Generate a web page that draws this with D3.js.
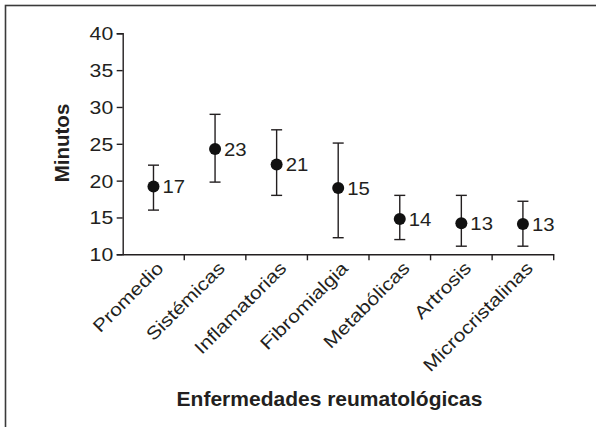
<!DOCTYPE html>
<html>
<head>
<meta charset="utf-8">
<script src="https://cdn.jsdelivr.net/npm/d3@7/dist/d3.min.js"></script>
<style>
  html, body { margin: 0; padding: 0; background: #fff; }
  svg { display: block; }
  text { font-family: "Liberation Sans", Arial, Helvetica, sans-serif; fill: #231f20; }
</style>
</head>
<body>
<svg id="chart" width="596" height="427"></svg>
<script>
// ---- data ----
const categories = ["Promedio", "Sistémicas", "Inflamatorias", "Fibromialgia", "Metabólicas", "Artrosis", "Microcristalinas"];
const means  = [19.2, 24.3, 22.2, 19.0, 14.8, 14.2, 14.1];
const upper  = [22.1, 29.0, 26.9, 25.1, 18.0, 18.0, 17.2];
const lower  = [16.0, 19.8, 18.0, 12.25, 12.0, 11.1, 11.1];
const valueLabels = ["17", "23", "21", "15", "14", "13", "13"];
const yTicks = [10, 15, 20, 25, 30, 35, 40];
const yTitle = "Minutos";
const xTitle = "Enfermedades reumatológicas";

// ---- layout ----
const ink = "#231f20";
const svg = d3.select("#chart");
const plotL = 122.7, plotR = 553.7, plotT = 33.3, plotB = 254.3;
const wide = 1.18; // horizontal widening of the regular-weight labels

// frame (only top and left edges visible in the reference)
svg.append("rect")
  .attr("x", 5.5).attr("y", 5.5).attr("width", 640).attr("height", 460)
  .attr("fill", "none").attr("stroke", "#3a3a3a").attr("stroke-width", 1.6);

const x = d3.scaleBand().domain(categories).range([plotL, plotR]).padding(0);
const y = d3.scaleLinear().domain([10, 40]).range([plotB, plotT]);

// y axis
const yAxis = svg.append("g")
  .attr("transform", `translate(${plotL},0)`)
  .call(d3.axisLeft(y).tickValues(yTicks).tickSize(6).tickPadding(3));
yAxis.select(".domain").attr("stroke", ink).attr("stroke-width", 1.4);
yAxis.selectAll(".tick line").attr("stroke", ink).attr("stroke-width", 1.4);
yAxis.selectAll(".tick text")
  .attr("font-size", 18).attr("fill", ink)
  .attr("font-family", "Liberation Sans, Arial, sans-serif")
  .attr("x", 0).attr("dy", "0.36em")
  .attr("transform", `translate(-9.5,0) scale(${wide},1)`);

// x axis: labels at band centres, ticks at band boundaries
const xAxis = svg.append("g")
  .attr("transform", `translate(0,${plotB})`)
  .call(d3.axisBottom(x).tickSize(0).tickPadding(0).tickSizeOuter(0));
xAxis.select(".domain").attr("stroke", ink).attr("stroke-width", 1.4);
xAxis.selectAll(".tick text")
  .attr("font-size", 18).attr("fill", ink)
  .attr("font-family", "Liberation Sans, Arial, sans-serif")
  .attr("text-anchor", "end")
  .attr("dy", null)
  .attr("transform", `translate(11,15) rotate(-45) scale(${wide},1)`);

const boundaries = categories.map(c => x(c) + x.bandwidth());
xAxis.selectAll("line.bnd").data(boundaries).enter().append("line")
  .attr("class", "bnd")
  .attr("x1", d => d).attr("x2", d => d)
  .attr("y1", 0).attr("y2", 6)
  .attr("stroke", ink).attr("stroke-width", 1.4);

// error bars
const cx = i => x(categories[i]) + x.bandwidth() / 2;
const g = svg.append("g");
const idx = d3.range(categories.length);
g.selectAll("line.err").data(idx).enter().append("line")
  .attr("class", "err")
  .attr("x1", cx).attr("x2", cx)
  .attr("y1", i => y(upper[i])).attr("y2", i => y(lower[i]))
  .attr("stroke", ink).attr("stroke-width", 1.4);
g.selectAll("line.capT").data(idx).enter().append("line")
  .attr("class", "capT")
  .attr("x1", i => cx(i) - 5.5).attr("x2", i => cx(i) + 5.5)
  .attr("y1", i => y(upper[i])).attr("y2", i => y(upper[i]))
  .attr("stroke", ink).attr("stroke-width", 1.4);
g.selectAll("line.capB").data(idx).enter().append("line")
  .attr("class", "capB")
  .attr("x1", i => cx(i) - 5.5).attr("x2", i => cx(i) + 5.5)
  .attr("y1", i => y(lower[i])).attr("y2", i => y(lower[i]))
  .attr("stroke", ink).attr("stroke-width", 1.4);
g.selectAll("circle").data(idx).enter().append("circle")
  .attr("cx", cx).attr("cy", i => y(means[i])).attr("r", 6)
  .attr("fill", "#111");
g.selectAll("text.val").data(idx).enter().append("text")
  .attr("class", "val")
  .attr("transform", i => `translate(${cx(i) + 9},${y(means[i])}) scale(1.1,1)`)
  .attr("dy", "0.36em")
  .attr("font-size", 18.5)
  .text(i => valueLabels[i]);

// axis titles
svg.append("text")
  .attr("transform", `translate(68.5,143) rotate(-90)`)
  .attr("text-anchor", "middle")
  .attr("font-size", 20.5).attr("font-weight", "bold")
  .text(yTitle);
svg.append("text")
  .attr("x", 329.5).attr("y", 406)
  .attr("text-anchor", "middle")
  .attr("font-size", 21).attr("font-weight", "bold")
  .text(xTitle);
</script>
</body>
</html>
